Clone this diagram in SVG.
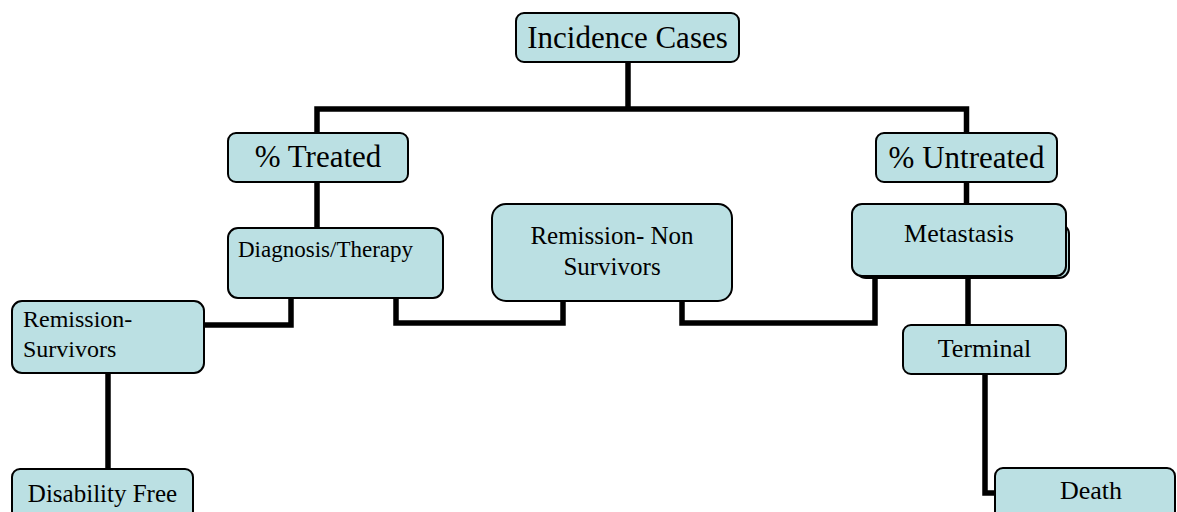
<svg xmlns="http://www.w3.org/2000/svg" width="1177" height="512" viewBox="0 0 1177 512">
<style>
.box{fill:#bbe0e3;stroke:#000;stroke-width:2}
.conn{fill:none;stroke:#000;stroke-width:5.5;stroke-linejoin:miter;stroke-linecap:butt}
text{font-family:"Liberation Serif","Times New Roman",serif;fill:#000}
.c{text-anchor:middle}
</style>
<rect width="1177" height="512" fill="#fff"/>
<g id="connectors">
<path class="conn" d="M628,62 V109"/>
<path class="conn" d="M317,133 V109 H966.5 V133"/>
<path class="conn" d="M317,182 V229"/>
<path class="conn" d="M291,298 V325 H204"/>
<path class="conn" d="M396,298 V323 H563 V301"/>
<path class="conn" d="M682,301 V323 H875 V276"/>
<path class="conn" d="M966.5,182 V205"/>
<path class="conn" d="M968,276 V326"/>
<path class="conn" d="M108,373 V470"/>
<path class="conn" d="M985,374 V493 H996"/>
</g>
<g id="incidence">
<rect class="box" x="516" y="13" width="223" height="49" rx="8"/>
<text class="c" x="627.5" y="48" font-size="31">Incidence Cases</text>
</g>
<g id="treated">
<rect class="box" x="228" y="133" width="180" height="49" rx="8"/>
<text class="c" x="318" y="167" font-size="31">% Treated</text>
</g>
<g id="untreated">
<rect class="box" x="876" y="133" width="181" height="49" rx="8"/>
<text class="c" x="966.5" y="168" font-size="31">% Untreated</text>
</g>
<g id="diagnosis">
<rect class="box" x="228" y="228" width="215" height="70" rx="10"/>
<text x="238" y="257" font-size="23">Diagnosis/Therapy</text>
</g>
<g id="nonsurvivors">
<rect class="box" x="492" y="204" width="240" height="97" rx="14"/>
<text class="c" x="612" y="244" font-size="25">Remission- Non</text>
<text class="c" x="612" y="275" font-size="25">Survivors</text>
</g>
<g id="metastasis">
<rect class="box" x="856" y="224" width="213" height="54" rx="10"/>
<rect class="box" x="852" y="204" width="214" height="72" rx="10"/>
<text class="c" x="959" y="242" font-size="26">Metastasis</text>
</g>
<g id="survivors">
<rect class="box" x="12" y="301" width="192" height="72" rx="10"/>
<text x="23" y="327" font-size="24">Remission-</text>
<text x="23" y="357" font-size="24">Survivors</text>
</g>
<g id="terminal">
<rect class="box" x="903" y="325" width="163" height="49" rx="8"/>
<text class="c" x="984.5" y="357" font-size="26">Terminal</text>
</g>
<g id="disability">
<rect class="box" x="12" y="469" width="181" height="60" rx="8"/>
<text class="c" x="102.5" y="502" font-size="25">Disability Free</text>
</g>
<g id="death">
<rect class="box" x="995" y="468" width="180" height="60" rx="8"/>
<text class="c" x="1091" y="499" font-size="26">Death</text>
</g>
</svg>
